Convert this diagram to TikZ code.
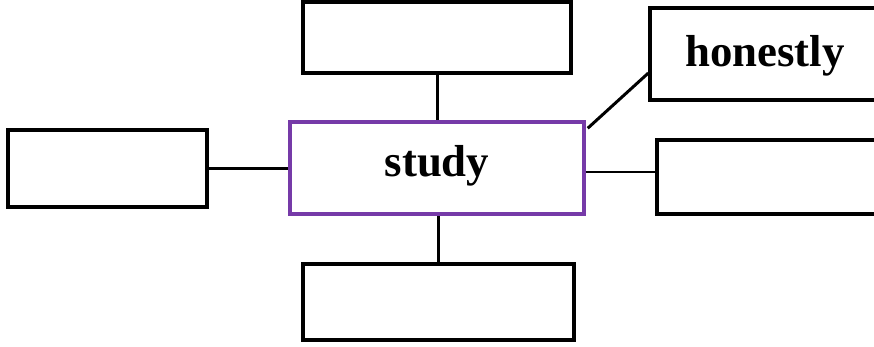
\documentclass[tikz,border=0pt]{standalone}
\usepackage{fontspec}
\setmainfont{Liberation Serif}
\usetikzlibrary{calc}
\definecolor{studypurple}{RGB}{118,58,168}
\begin{document}
\begin{tikzpicture}[x=0.02cm,y=-0.02cm,
  box/.style={draw=black,line width=2pt,fill=white,rectangle,inner sep=0pt},
  link/.style={draw=black,line width=1.7pt},
  lbl/.style={font=\fontsize{25.5}{28}\selectfont\bfseries}]
\useasboundingbox (0,0) rectangle (874,347);
\clip (0,0) rectangle (874,347);
\node[box,minimum width=3.98cm,minimum height=1.54cm] (l) at (107.5,168.5) {};
\node[box,minimum width=5.36cm,minimum height=1.42cm] (t) at (437,37.5) {};
\node[box,minimum width=5.42cm,minimum height=1.52cm] (b) at (438.5,302) {};
\node[box,minimum width=4.6cm,minimum height=1.84cm] (h) at (765,54) {};
\node[lbl] (htext) at (765,56) {honestly};
\node[box,minimum width=4.66cm,minimum height=1.48cm] (r) at (773.5,177) {};
\node[box,draw=studypurple,minimum width=5.88cm,minimum height=1.84cm] (c) at (437,168) {};
\node[lbl] (ctext) at (437,166) {study};
\coordinate (ce) at ($(c.east)+(0,4)$);
\coordinate (hw) at ($(h.south west)!0.3!(h.north west)$);
\coordinate (cne) at ($(c.north east)+(2,8)$);
\draw[link] (t.south) -- (t.south |- c.north);
\draw[link] (b.north) -- (b.north |- c.south);
\draw[link] (l.east) -- (l.east -| c.west);
\draw[link] (ce) -- (ce -| r.west);
\draw[link] (cne) -- (hw);
\end{tikzpicture}
\end{document}
